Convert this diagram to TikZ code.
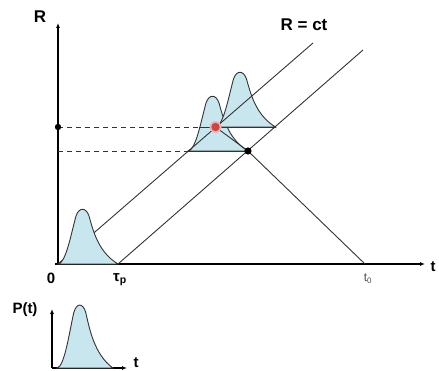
\documentclass[tikz,border=0pt]{standalone}
\usepackage{fontspec}
\setmainfont{Liberation Sans}
\usetikzlibrary{arrows.meta}

\definecolor{pulseblue}{RGB}{200,230,238}
\definecolor{dotred}{RGB}{205,70,70}

\tikzset{
  pulse/.pic={
    \filldraw[fill=pulseblue, draw=black!80, line width=0.9pt]
      (0,0) .. controls (8,1) and (13,30) .. (18,48)
      .. controls (21,57) and (28,57) .. (31,48)
      .. controls (35,34) and (40,12) .. (60,0) -- cycle;
  }
}

\begin{document}
\begin{tikzpicture}[x=1pt, y=1pt,
    axis/.style={line width=1.3pt, -{Latex[length=5pt,width=4pt]}},
    ray/.style={line width=0.9pt, draw=black!80},
    guide/.style={ray, dash pattern=on 5pt off 4pt},
    lbl/.style={font=\bfseries\fontsize{15}{17}\selectfont},
    biglbl/.style={font=\bfseries\fontsize{17}{19}\selectfont}]

  \useasboundingbox (-58,-106) rectangle (381,264);

  % key points
  \coordinate (O) at (0,0);
  \coordinate (tp) at (60,0);
  \coordinate (t0) at (307,0);
  \coordinate (red) at (157.5,137);
  \coordinate (black) at (190,113);
  \coordinate (low1) at (130,113);
  \coordinate (up2) at (217.5,137);
  \coordinate (flank) at (141,137);
  \coordinate (Rup) at (0,137);
  \coordinate (Rlow) at (0,113);

  % the pulse at two later times
  \pic at (low1) {pulse};
  \pic at (red) {pulse};

  % axes
  \draw[axis] (-3,0) -- (367,0) coordinate (tend);
  \draw[axis] (O) -- (0,241) coordinate (Rend);

  % leading and trailing edge, R = ct
  \draw[ray] (O) -- (255,221) coordinate (ray1);
  \draw[ray] (tp) -- (305,214) coordinate (ray2);

  % levels
  \draw[guide] (Rup) -- (flank);
  \draw[ray] (flank) -- (up2);
  \draw[guide] (Rlow) -- (low1);
  \draw[ray] (low1) -- (black);

  % back to the origin at t0
  \draw[ray] (t0) -- (black) -- (red);

  \fill (Rup) circle (3.2);
  \fill[dotred!40] (red) circle (6);
  \fill[dotred] (red) circle (4.2);
  \fill (black) circle (3.6);

  % emitted pulse
  \pic at (O) {pulse};

  % labels
  \node[biglbl] (Rlab) at (-18,247) {R};
  \node[biglbl] (ctlab) at (246,239) {R = ct};
  \node[lbl] (zero) at (-7,-14) {0};
  \node[lbl] (tplab) at (62,-16) {τ\textsubscript{p}};
  \node[font=\fontsize{12}{14}\selectfont, text=black!70] (t0lab) at (310,-15) {t\textsubscript{0}};
  \node[lbl, inner sep=0pt] (tlab) at (375,-3) {t};

  % inset: P(t)
  \coordinate (pO) at (-6,-104);
  \draw[axis, line width=1.1pt] (pO) -- (-6,-45) coordinate (ptop);
  \draw[axis, line width=1.1pt] (pO) -- (69,-104) coordinate (pend);
  \pic[xscale=0.93, yscale=1.15] at (-1,-104) {pulse};
  \node[lbl] (Plab) at (-33,-46) {P(t)};
  \node[lbl, inner sep=0pt] (ptlab) at (78,-99) {t};

\end{tikzpicture}
\end{document}
